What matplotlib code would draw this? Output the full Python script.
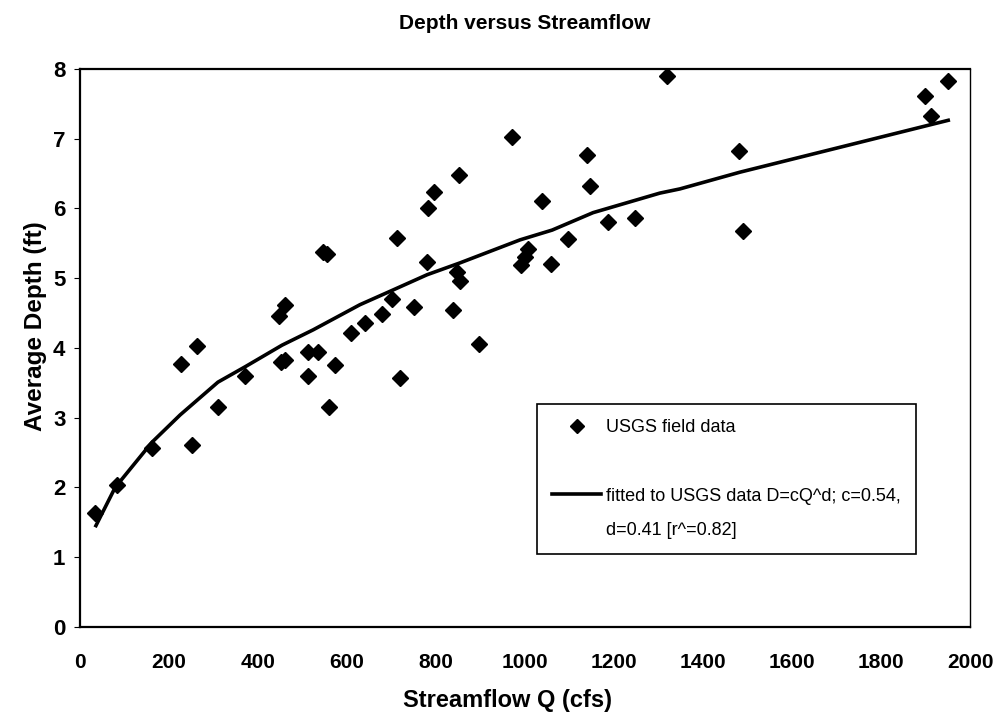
import matplotlib
matplotlib.use('Agg')
import matplotlib.pyplot as plt
from matplotlib.lines import Line2D

# ---- data ----
streamflow = [34, 83, 162, 227, 252, 263, 310, 371, 447, 452, 461, 461, 512, 512,
              535, 546, 555, 560, 573, 609, 640, 679, 701, 712, 720, 750, 779,
              782, 795, 838, 847, 852, 854, 897, 971, 991, 1000, 1007, 1038,
              1058, 1097, 1139, 1146, 1186, 1247, 1319, 1481, 1490, 1899, 1912, 1951]
depth = [1.63, 2.04, 2.57, 3.77, 2.61, 4.03, 3.15, 3.60, 4.46, 3.80, 4.62, 3.83, 3.94, 3.60,
         3.94, 5.38, 5.35, 3.15, 3.76, 4.21, 4.36, 4.49, 4.70, 5.58, 3.57, 4.59, 5.23,
         6.01, 6.24, 4.54, 5.09, 6.48, 4.96, 4.06, 7.02, 5.19, 5.30, 5.42, 6.11,
         5.20, 5.56, 6.77, 6.32, 5.80, 5.86, 7.90, 6.82, 5.68, 7.61, 7.33, 7.83]

fit_q = [34, 79, 162, 225, 310, 371, 454, 524, 629, 703, 780, 854, 989, 1061,
         1153, 1303, 1348, 1483, 1955]
fit_d = [1.43, 2.00, 2.65, 3.04, 3.51, 3.73, 4.04, 4.26, 4.62, 4.83, 5.05, 5.22, 5.55, 5.69,
         5.94, 6.22, 6.28, 6.52, 7.27]

x_ticks = [0, 200, 400, 600, 800, 1000, 1200, 1400, 1600, 1800, 2000]
y_ticks = [0, 1, 2, 3, 4, 5, 6, 7, 8]

title = 'Depth versus Streamflow'
x_label = 'Streamflow Q (cfs)'
y_label = 'Average Depth (ft)'
label_points = 'USGS field data'
label_fit_1 = 'fitted to USGS data D=cQ^d; c=0.54,'
label_fit_2 = 'd=0.41 [r^=0.82]'

plt.rcParams['font.family'] = ['Liberation Sans', 'DejaVu Sans']

fig = plt.figure(figsize=(10, 7.22), dpi=100)
ax = fig.add_axes([0.080, 0.1316, 0.890, 0.7729])

ax.plot(streamflow, depth, linestyle='none', marker='D', ms=8,
        color='black', zorder=3)
ax.plot(fit_q, fit_d, color='black', lw=2.6, solid_capstyle='butt', zorder=2)

ax.set_xlim(0, 2000)
ax.set_ylim(0, 8)
ax.set_xticks(x_ticks)
ax.set_yticks(y_ticks)
ax.set_xticklabels([str(v) for v in x_ticks], fontsize=15, fontweight='bold')
ax.set_yticklabels([str(v) for v in y_ticks], fontsize=16, fontweight='bold')
ax.tick_params(axis='x', length=0, pad=19)
ax.tick_params(axis='y', length=4.5, width=0.8, direction='out', pad=6)

for side in ['left', 'bottom', 'top']:
    ax.spines[side].set_linewidth(1.6)
ax.spines['right'].set_linewidth(1.0)
for s in ax.spines.values():
    s.set_color('black')

ax.set_title(title, fontsize=15, fontweight='bold', pad=29)
ax.set_xlabel(x_label, fontsize=17, fontweight='bold')
ax.xaxis.set_label_coords(0.48, -0.112)
ax.set_ylabel(y_label, fontsize=17.5, fontweight='bold')
ax.yaxis.set_label_coords(-0.037, 0.54)

h_pts = Line2D([], [], linestyle='none', marker='D', ms=7, color='black')
h_blank = Line2D([], [], linestyle='none', marker='None')
h_fit = Line2D([], [], color='black', lw=2.6)
leg = ax.legend([h_pts, h_blank, h_fit, h_blank],
                [label_points, ' ', label_fit_1, label_fit_2],
                loc='upper left', bbox_to_anchor=(0.537, 0.4404),
                bbox_transform=fig.transFigure, borderaxespad=0,
                frameon=True, fancybox=False, edgecolor='black', framealpha=1,
                fontsize=13, borderpad=0.85, labelspacing=0.95,
                handlelength=2.7, handletextpad=0.25)
leg.get_frame().set_linewidth(1.2)

fig.savefig('out.png', dpi=100)
